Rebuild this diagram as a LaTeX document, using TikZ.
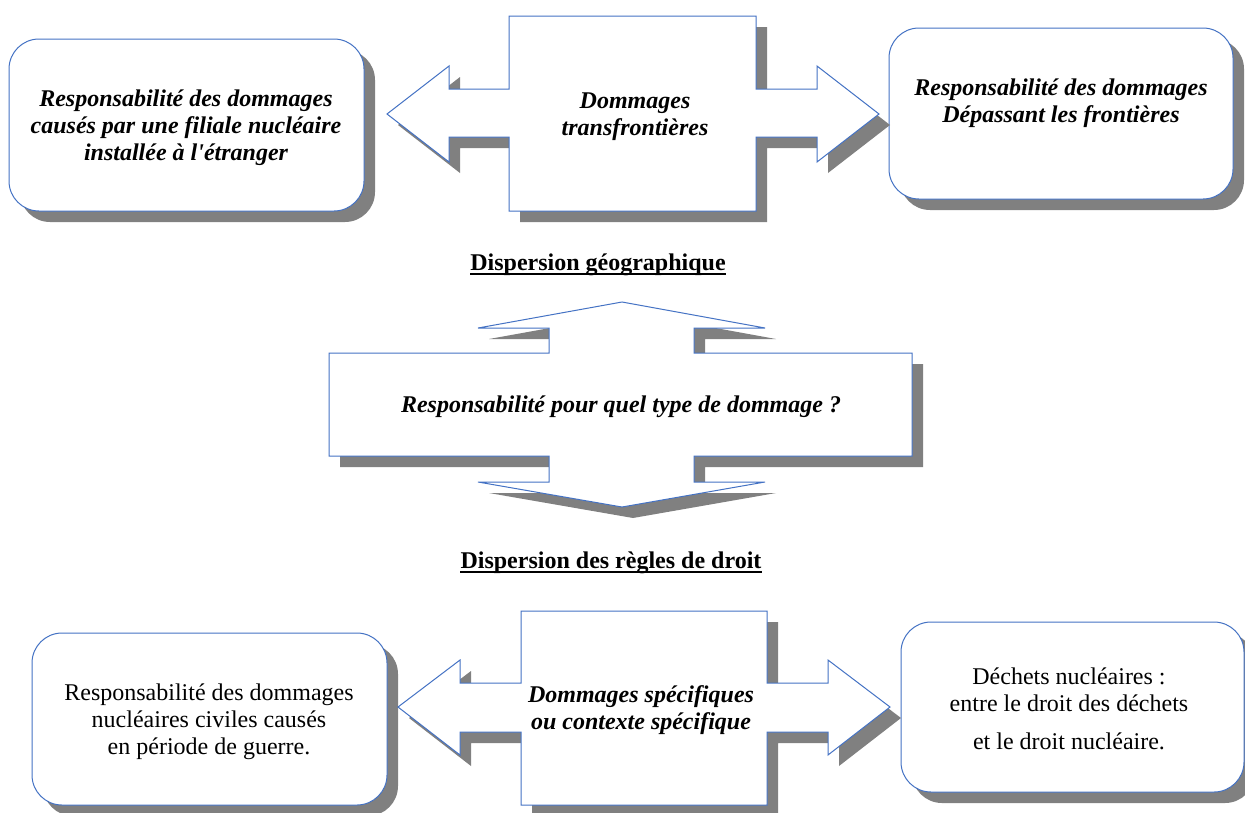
\documentclass[tikz,border=0pt]{standalone}
\usepackage{fontspec}
\setmainfont{Liberation Serif}
\usetikzlibrary{shadows}
\definecolor{bordc}{HTML}{4472C4}
\definecolor{shadc}{HTML}{808080}
\tikzset{
  outl/.style={draw=bordc, line width=1pt, fill=white},
  sh/.style={drop shadow={shadow xshift=11pt, shadow yshift=-11pt, fill=shadc, opacity=1}},
  rbox/.style={outl, rounded corners=30pt},
  bi/.style={font=\fontsize{24}{27}\selectfont\bfseries\itshape, align=center, inner sep=0pt},
  rm/.style={font=\fontsize{24}{27}\selectfont, align=center, inner sep=0pt},
  head/.style={font=\fontsize{24}{27}\selectfont\bfseries, inner sep=0pt, anchor=base},
  uline/.style={line width=1.5pt},
}
\begin{document}
\begin{tikzpicture}[x=1pt,y=-1pt]
\useasboundingbox (0,0) rectangle (1245,812);
% rounded boxes
\draw[rbox, sh] (9,39) rectangle (364,211);
\draw[rbox, sh] (889,28) rectangle (1233,199);
\draw[rbox, sh] (32,633) rectangle (387,805);
\draw[rbox, sh] (901,622) rectangle (1244,792);
% top double arrow
\draw[outl, sh] (387,114) -- (449,66) -- (449,89) -- (509,89) -- (509,16) -- (756,16) -- (756,89) -- (817,89) -- (817,66) -- (879,114) -- (817,162) -- (817,137) -- (756,137) -- (756,211) -- (509,211) -- (509,137) -- (449,137) -- (449,162) -- cycle;
% middle vertical double arrow
\draw[outl, sh] (622,302) -- (765,328) -- (694,328) -- (694,353) -- (912,353) -- (912,456) -- (694,456) -- (694,482) -- (765,482) -- (622,507) -- (478,482) -- (549,482) -- (549,456) -- (329,456) -- (329,353) -- (549,353) -- (549,328) -- (478,328) -- cycle;
% bottom double arrow
\draw[outl, sh] (398,707) -- (460,660) -- (460,683) -- (521,683) -- (521,611) -- (767,611) -- (767,683) -- (828,683) -- (828,660) -- (890,707) -- (828,755) -- (828,732) -- (767,732) -- (767,805) -- (521,805) -- (521,732) -- (460,732) -- (460,755) -- cycle;
% texts
\node[bi] (t1) at (186,128) {Responsabilité des dommages\\causés par une filiale nucléaire\\installée à l\textquotesingle étranger};
\node[bi] (t2) at (635,117) {Dommages\\transfrontières};
\node[bi] (t3) at (1061,103) {Responsabilité des dommages\\Dépassant les frontières};
\node[head] (h1) at (598,270) {Dispersion géographique};
\draw[uline] ([yshift=-4pt]h1.base west) -- ([yshift=-4pt]h1.base east);
\node[bi, anchor=base] (t4) at (621,412) {Responsabilité pour quel type de dommage ?};
\node[head] (h2) at (611,568) {Dispersion des règles de droit};
\draw[uline] ([yshift=-4pt]h2.base west) -- ([yshift=-4pt]h2.base east);
\node[rm] (t5) at (209,721.5) {Responsabilité des dommages\\nucléaires civiles causés\\en période de guerre.};
\node[bi] (t6) at (641,710.5) {Dommages spécifiques\\ou contexte spécifique};
\node[rm] (t7) at (1069,708.5) {Déchets nucléaires :\\entre le droit des déchets\\[11pt]et le droit nucléaire.};
\end{tikzpicture}
\end{document}
